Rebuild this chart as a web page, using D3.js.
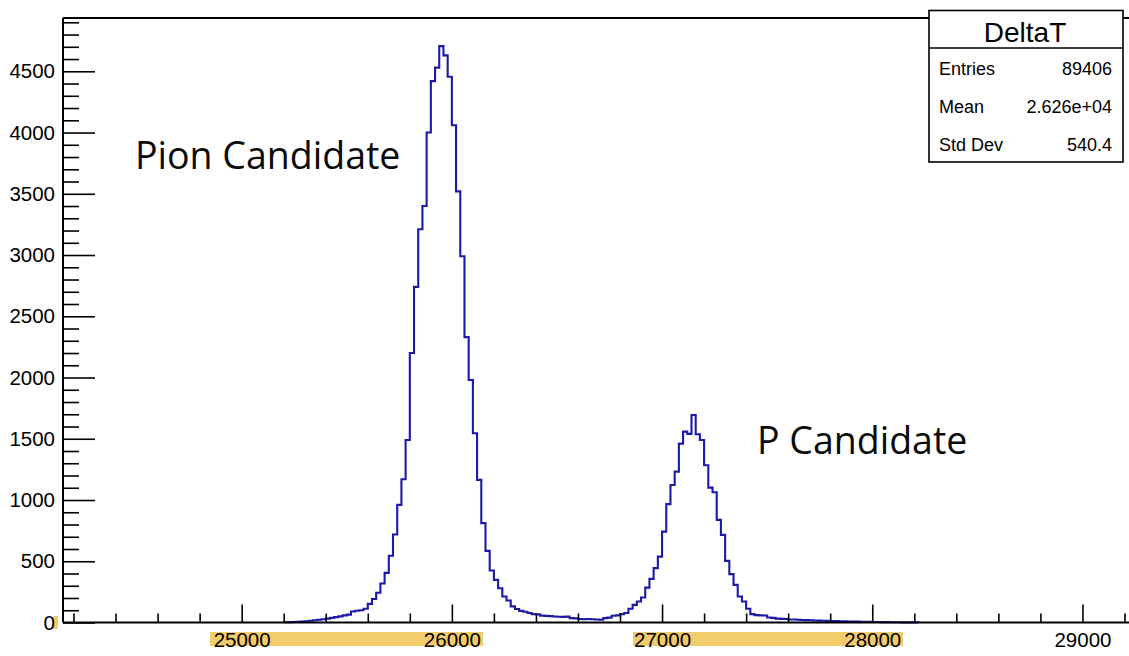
<!DOCTYPE html>
<html>
<head>
<meta charset="utf-8">
<script src="https://cdn.jsdelivr.net/npm/d3@7"></script>
<style>
  html, body { margin: 0; padding: 0; background: #ffffff; }
  svg { display: block; }
</style>
</head>
<body>
<svg id="chart" width="1129" height="656"></svg>
<script>
// ---------------- data ----------------
const histName = "DeltaT";
const binWidth = 20;
const binStart = 25200;
const counts = [
  2, 3, 4, 6, 8, 10, 14, 18, 22, 26,            // 25200 - 25380
  32, 38, 44, 50, 58, 64, 90, 96, 100, 112,     // 25400 - 25580
  152, 192, 243, 318, 405, 545, 718, 960, 1170, 1490, // 25600 - 25780
  2200, 2740, 3210, 3400, 4000, 4420, 4530, 4705, 4630, 4455, // 25800 - 25980
  4060, 3520, 2990, 2330, 1980, 1545, 1164, 811, 585, 425,    // 26000 - 26180
  348, 280, 212, 180, 132, 110, 95, 88, 78, 68, // 26200 - 26380
  66, 56, 54, 52, 49, 47, 46, 48, 36, 34,       // 26400 - 26580
  28, 26, 29, 27, 24, 22, 36, 40, 55, 58,       // 26600 - 26780
  68, 77, 112, 144, 171, 204, 285, 356, 444, 538, // 26800 - 26980
  742, 966, 1123, 1232, 1460, 1558, 1540, 1694, 1537, 1490, // 27000 - 27180
  1284, 1101, 1063, 838, 715, 503, 395, 307, 212, 171, // 27200 - 27380
  112, 68, 60, 58, 57, 41, 38, 32, 30, 28,      // 27400 - 27580
  25, 24, 22, 20, 19, 18, 16, 15, 14, 13,       // 27600 - 27780
  12, 11, 10, 9, 8, 8, 7, 6, 6, 5,              // 27800 - 27980
  4, 4, 3, 3, 2, 2, 2, 1, 1, 1, 1               // 28000 - 28200
];
const xDomain = [24150, 29250];
const yDomain = [0, 4935];
const xMajorTicks = [25000, 26000, 27000, 28000, 29000];
const xMinorTicks = d3.range(24200, 29201, 200).filter(v => v % 1000 !== 0);
const yMajorTicks = [0, 500, 1000, 1500, 2000, 2500, 3000, 3500, 4000, 4500];
const yMinorTicks = d3.range(100, 4901, 100).filter(v => v % 500 !== 0);
const statLabels = ["Entries", "Mean", "Std Dev"];
const statValues = ["89406", "2.626e+04", "540.4"];
const annotations = ["Pion Candidate", "P Candidate"];

// ---------------- layout ----------------
const svg = d3.select("#chart");
const padL = 63, padR = 1135, padT = 18, padB = 622.5;
const x = d3.scaleLinear().domain(xDomain).range([padL, padR]);
const y = d3.scaleLinear().domain(yDomain).range([padB, padT]);
const axisFont = "'Liberation Sans', Arial, Helvetica, sans-serif";
const highlight = "#f2cc6b";

// text highlights (selection marks in the original screenshot)
svg.append("rect").attr("x", 210).attr("y", 632).attr("width", 273).attr("height", 14).attr("fill", highlight);
svg.append("rect").attr("x", 633).attr("y", 632).attr("width", 270).attr("height", 14).attr("fill", highlight);
svg.append("rect").attr("x", 53).attr("y", 616).attr("width", 5).attr("height", 13).attr("fill", highlight);

// histogram outline
const pts = [];
pts.push([binStart, 0]);
counts.forEach((c, i) => {
  const x0 = binStart + i * binWidth;
  pts.push([x0, c]);
  pts.push([x0 + binWidth, c]);
});
pts.push([binStart + counts.length * binWidth, 0]);
const line = d3.line().x(d => x(d[0])).y(d => y(d[1]));
svg.append("path")
  .attr("d", line(pts))
  .attr("fill", "none")
  .attr("stroke", "#1a1aa6")
  .attr("stroke-width", 2.1)
  .attr("stroke-linejoin", "miter");

// axes
const gx = svg.append("g").attr("transform", `translate(0,${padB})`);
gx.call(d3.axisBottom(x).tickValues(xMinorTicks).tickSizeInner(-9).tickSizeOuter(0).tickFormat(""));
gx.select(".domain").remove();
const gx2 = svg.append("g").attr("transform", `translate(0,${padB})`);
gx2.call(d3.axisBottom(x).tickValues(xMajorTicks).tickSizeInner(-18).tickSizeOuter(0).tickPadding(9.5).tickFormat(d3.format("d")));
gx2.select(".domain").remove();

const gy = svg.append("g").attr("transform", `translate(${padL},0)`);
gy.call(d3.axisLeft(y).tickValues(yMinorTicks).tickSizeInner(-16).tickSizeOuter(0).tickFormat(""));
gy.select(".domain").remove();
const gy2 = svg.append("g").attr("transform", `translate(${padL},0)`);
gy2.call(d3.axisLeft(y).tickValues(yMajorTicks).tickSizeInner(-32).tickSizeOuter(0).tickPadding(8).tickFormat(d3.format("d")));
gy2.select(".domain").remove();
svg.selectAll("g.tick line").attr("stroke", "#000").attr("stroke-width", 1.6);
svg.selectAll("g.tick text").attr("font-family", axisFont).attr("font-size", 20.5).attr("fill", "#000");

// frame lines
svg.append("line").attr("x1", padL).attr("x2", 1129).attr("y1", padT).attr("y2", padT).attr("stroke", "#000").attr("stroke-width", 2);
svg.append("line").attr("x1", padL).attr("x2", padL).attr("y1", padT).attr("y2", padB).attr("stroke", "#000").attr("stroke-width", 2);
svg.append("line").attr("x1", padL).attr("x2", 1129).attr("y1", padB).attr("y2", padB).attr("stroke", "#000").attr("stroke-width", 2);

// annotations
const annFont = "'Open Sans', 'Noto Sans', sans-serif";
svg.append("text").attr("x", 135).attr("y", 169).attr("font-family", annFont).attr("font-size", 37.5).attr("fill", "#0a0a0a").text(annotations[0]);
svg.append("text").attr("x", 757).attr("y", 454).attr("font-family", annFont).attr("font-size", 37.5).attr("fill", "#0a0a0a").text(annotations[1]);

// stats box
const sb = svg.append("g");
sb.append("rect").attr("x", 929).attr("y", 10.5).attr("width", 194).attr("height", 151.5)
  .attr("fill", "#fff").attr("stroke", "#000").attr("stroke-width", 1.6);
sb.append("line").attr("x1", 929).attr("x2", 1123).attr("y1", 48).attr("y2", 48).attr("stroke", "#000").attr("stroke-width", 1.6);
sb.append("text").attr("x", 1025).attr("y", 41.5).attr("text-anchor", "middle")
  .attr("font-family", axisFont).attr("font-size", 28).attr("fill", "#000").text(histName);
const rowY = [75, 112.5, 150.5];
statLabels.forEach((lab, i) => {
  sb.append("text").attr("x", 939).attr("y", rowY[i]).attr("font-family", axisFont).attr("font-size", 18).attr("fill", "#000").text(lab);
  sb.append("text").attr("x", 1112).attr("y", rowY[i]).attr("text-anchor", "end").attr("font-family", axisFont).attr("font-size", 18).attr("fill", "#000").text(statValues[i]);
});
</script>
</body>
</html>
